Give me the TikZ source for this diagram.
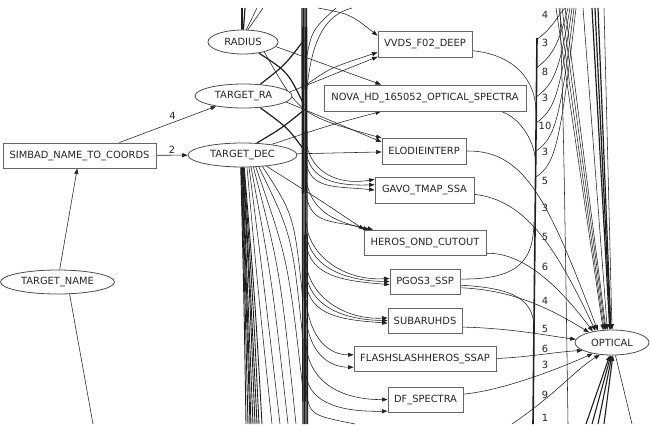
\documentclass[tikz,border=0pt]{standalone}
\usepackage{fontspec}
\setmainfont{DejaVu Sans}
\usetikzlibrary{shapes.geometric,arrows.meta}
\pgfdeclarelayer{bg}
\pgfsetlayers{bg,main}
\begin{document}
\begin{tikzpicture}[x=1pt,y=-1pt,
  lbl/.style={font=\fontsize{9.9}{11}\selectfont, text=black!85, inner sep=0pt},
  bx/.style={lbl, draw=black!60, line width=0.9pt, fill=white, rectangle, minimum height=25pt},
  el/.style={lbl, draw=black!70, line width=0.8pt, fill=white, ellipse, minimum height=24pt},
  ed/.style={draw=black!88, line width=0.55pt},
  ar/.style={ed, -{Triangle[length=5.5pt,width=4pt]}},
  hv/.style={ed, line width=1.2pt},
]
\useasboundingbox (0,0) rectangle (650,424);

% ---------- nodes ----------
\node[el, minimum width=70pt] (radius) at (243,42) {RADIUS};
\node[el, minimum width=97pt] (ra) at (243.5,96) {TARGET\_RA};
\node[el, minimum width=109pt] (dec) at (242.5,155) {TARGET\_DEC};
\node[bx, minimum width=153pt] (simbad) at (79.5,155.5) {SIMBAD\_NAME\_TO\_COORDS};
\node[el, minimum width=114pt] (tname) at (57.5,282) {TARGET\_NAME};
\node[bx, minimum width=94pt, minimum height=26pt] (vvds) at (425,44) {VVDS\_F02\_DEEP};
\node[bx, minimum width=202pt, minimum height=26pt] (nova) at (425,98) {NOVA\_HD\_165052\_OPTICAL\_SPECTRA};
\node[bx, minimum width=84pt, minimum height=26pt] (elodie) at (424,151) {ELODIEINTERP};
\node[bx, minimum width=99pt, minimum height=26pt] (gavo) at (424.5,190) {GAVO\_TMAP\_SSA};
\node[bx, minimum width=122pt] (heros) at (425,242.5) {HEROS\_OND\_CUTOUT};
\node[bx, minimum width=70pt] (pgos) at (425,281.5) {PGOS3\_SSP};
\node[bx, minimum width=74pt] (subaru) at (425,320.5) {SUBARUHDS};
\node[bx, minimum width=142pt] (flash) at (425,358.5) {FLASHSLASHHEROS\_SSAP};
\node[bx, minimum width=75pt] (dfs) at (425.5,399.5) {DF\_SPECTRA};
\node[el, minimum width=74pt, minimum height=25pt] (optical) at (612,342.5) {OPTICAL};

\begin{pgfonlayer}{bg}
% ---------- left part ----------
\draw[ar] (simbad.18) -- node[lbl, pos=0.55, above=3pt] (l4) {4} (ra);
\draw[ar] (simbad) -- node[lbl, above=1.5pt] (l2) {2} (dec);
\draw[ar] (tname) -- (simbad);
\coordinate (nb) at (93,424);
\draw[ed] (tname.-45) -- (nb);

% radius upwards
\coordinate (rt1) at (242,8); \coordinate (rt2) at (245,8);
\coordinate (rt3) at (257,8); \coordinate (rt4) at (263,8);
\draw[hv, line width=1.8pt] (radius.95) -- (rt1);
\draw[hv] (radius.88) -- (rt2);
\draw[ed] (radius.75) -- (rt3);
\draw[ed] (radius.68) -- (rt4);

% dense bundle below TARGET_DEC
\foreach \i/\a/\x/\c in {1/262/246/244,2/264/248/245,3/266/250/246,4/268/251/247,5/270/253/248,6/272/255/250,7/274/257/251,8/276/259/253,9/278/262/255} {
  \coordinate (db\i) at (\x,424);
  \draw[ed, line width=0.9pt] (dec.\a) .. controls (\c,300) .. (db\i);
}
% fan below TARGET_DEC
\foreach \i/\a/\x/\y/\c/\m in {1/-70/272/424/258/290, 2/-62/280/424/264/285, 3/-55/288/424/272/280, 4/-48/296/424/280/270, 5/-42/303/390/288/260, 6/-36/303/340/292/235, 7/-30/303/300/294/215} {
  \coordinate (df\i) at (\x,\y);
  \draw[ed] (dec.\a) .. controls (\c,\m) .. (df\i);
}

% thick vertical bundle
\foreach \i/\x in {1/302,2/303.5,3/305,4/306.5} {
  \coordinate (bt\i) at (\x,8); \coordinate (bb\i) at (\x+1,424);
  \draw[hv, line width=1.4pt] (bt\i) -- (bb\i);
}
% crossings
\coordinate (x1) at (304,105); \coordinate (x2) at (304,40);
\coordinate (x3) at (304,150); \coordinate (x4) at (304,110);
\draw[hv] (radius.-35) .. controls (288,72) .. (x1);
\draw[hv] (ra.35) .. controls (285,65) .. (x2);
\draw[hv] (ra.-35) .. controls (288,128) .. (x3);
\draw[hv] (dec.40) .. controls (282,128) .. (x4);

% curves from bundle to top
\coordinate (ct1) at (352,8); \coordinate (ct2) at (336,8);
\coordinate (k1) at (306,100); \coordinate (k2) at (306,60);
\draw[ed] (k1) .. controls (310,40) and (325,15) .. (ct1);
\draw[ed] (k2) .. controls (312,30) .. (ct2);

% ---------- inputs of upper boxes ----------
\coordinate (vt) at (318,8);
\draw[ar] (vt) .. controls (350,14) .. (vvds.170);
\draw[ar] (ra.5) -- (vvds.-165);
\coordinate (k3) at (306,85);
\draw[ar] (k3) .. controls (330,68) .. (vvds.-170);
\draw[ar] (radius.-8) -- (nova.163);
\draw[ar] (dec.20) .. controls (330,125) .. (nova.-163);
\draw[ar] (radius.-25) .. controls (300,115) .. (elodie.163);
\draw[ar] (ra.-8) -- (elodie.168);
\draw[ar] (dec) -- (elodie);

% ---------- inputs of lower boxes ----------
\foreach \i/\y/\a in {1/140/168.6, 2/150/174.2, 3/160/180} {
  \coordinate (g\i) at (306,\y);
  \draw[ar] (g\i) .. controls (309,\y+30) and (335,186) .. (gavo.\a);
}
\draw[ar] (dec.-25) .. controls (320,200) .. (heros.168.4);
\foreach \i/\y/\a in {1/180/167.8, 2/195/166.2} {
  \coordinate (h\i) at (306,\y);
  \draw[ar] (h\i) .. controls (312,\y+30) and (330,220) .. (heros.\a);
}
\foreach \i/\y/\a in {1/222/175.9, 2/232/180, 3/242/-175.9} {
  \coordinate (p\i) at (306,\y);
  \draw[ar] (p\i) .. controls (309,\y+35) and (345,281) .. (pgos.\a);
}
\foreach \i/\y/\a in {1/262/176, 2/272/180, 3/282/-176} {
  \coordinate (s\i) at (306,\y);
  \draw[ar] (s\i) .. controls (309,\y+35) and (345,320) .. (subaru.\a);
}
\coordinate (f1) at (306,300); \coordinate (f2) at (306,318);
\draw[ar] (f1) .. controls (310,340) and (330,355) .. (flash.177);
\draw[ar] (f2) .. controls (310,355) and (330,367) .. (flash.-173);
\coordinate (d1) at (306,345); \coordinate (d2) at (306,375);
\draw[ar] (d1) .. controls (310,385) and (345,400) .. (dfs.west);
\draw[ar] (d2) .. controls (310,405) and (345,412) .. (dfs.-163);
\coordinate (d3) at (306,390); \coordinate (d4) at (355,424);
\draw[ed] (d3) .. controls (310,415) .. (d4);

% ---------- right part ----------
\coordinate (v0) at (537,38); \coordinate (vb) at (533,424);
\draw[hv, line width=1.6pt] (v0) -- (vb);

\foreach \i/\sx/\yl/\t in {1/566/15/4, 2/568/43/3, 3/570/72/8, 4/572/98/3, 5/574/126/10, 6/576/152/3} {
  \coordinate (ws\i) at (\sx,8);
  \coordinate (we\i) at (536,\yl+25);
  \draw[ed] (ws\i) .. controls (560,\yl-5) and (555,\yl+12) .. (we\i);
  \node[lbl] (wl\i) at (545,\yl) {\t};
}

\foreach \i/\sx/\a in {1/556/125, 2/559/122, 3/562/118, 4/565/115} {
  \coordinate (dt\i) at (\sx,8);
  \draw[ar] (dt\i) -- (optical.\a);
}
\coordinate (vt1) at (583,8);
\draw[ar] (vt1) -- (optical.110);
\foreach \i/\sx/\a in {2/592/100, 3/595/97, 4/598/95} {
  \coordinate (vt\i) at (\sx,8);
  \draw[ar, line width=1.2pt] (vt\i) -- (optical.\a);
}
\coordinate (vt5) at (604,8);
\draw[ar] (vt5) -- (optical.90);

\coordinate (q1) at (560,8); \coordinate (q2) at (568,424);
\draw[ed] (q1) .. controls (564,150) .. (q2);

\coordinate (vv) at (536,110);
\draw[ed] (vvds.-8) .. controls (515,55) and (535,80) .. (vv);
\coordinate (vn) at (536,165);
\draw[ed] (nova.-10.5) .. controls (520,118) and (535,140) .. (vn);
\coordinate (vp1) at (534,222);
\draw[ed] (pgos.4) .. controls (525,280) and (533,255) .. (vp1);
\coordinate (vp2) at (534,325);
\draw[ed] (pgos.-6) .. controls (515,288) and (532,300) .. (vp2);

\draw[ar] (elodie.east) .. controls (525,150) and (548,200) .. (optical.140);
\draw[ar] (gavo.-5) .. controls (525,200) and (555,245) .. (optical.145);
\draw[ar] (heros.-10) .. controls (525,252) and (562,290) .. (optical.150);
\draw[ar] (pgos.-10) .. controls (520,290) and (560,315) .. (optical.156);
\draw[ar] (subaru.-10) .. controls (510,328) and (550,336) .. (optical.175);
\draw[ar] (flash.east) .. controls (530,357) and (555,352) .. (optical.-165);
\draw[ar] (dfs.8) .. controls (505,390) and (560,368) .. (optical.-150);
\coordinate (ob1) at (512,424);
\draw[ar] (ob1) .. controls (555,395) and (575,370) .. (optical.-135);

\foreach \i/\y/\t in {1/181/5, 2/208/3, 3/237/5, 4/267/6, 5/301/4, 6/329/5, 7/349/6, 8/365/3, 9/395/9, 10/418/1} {
  \node[lbl] (ml\i) at (545,\y) {\t};
}

\foreach \i/\x/\a in {1/586/-100, 2/592/-95, 3/598/-90, 4/604/-86} {
  \coordinate (obb\i) at (\x,424);
  \draw[ar, line width=1.1pt] (obb\i) -- (optical.\a);
}
\coordinate (oc) at (632,424);
\draw[ed] (optical.-75) -- (oc);
\end{pgfonlayer}
\end{tikzpicture}
\end{document}
